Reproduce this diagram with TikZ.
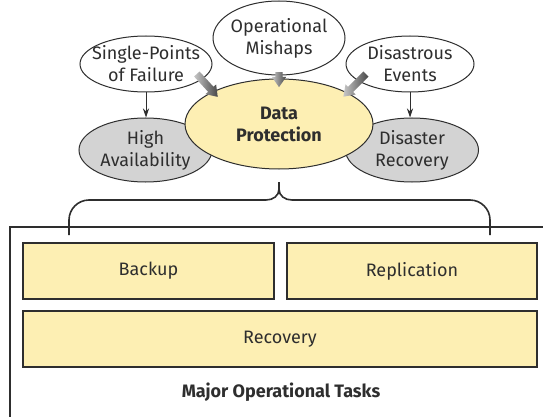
\documentclass[tikz,border=0pt]{standalone}
\usepackage{fontspec}
\setmainfont{Fira Sans}
\usetikzlibrary{shapes.geometric,shapes.arrows,arrows.meta}
\definecolor{pale}{HTML}{FDEFB3}
\definecolor{mist}{HTML}{D3D3D3}
\definecolor{ink}{HTML}{2E2E2E}
\newcommand{\labelfont}{\fontsize{18}{22}\selectfont}
\tikzset{
  cause/.style={ellipse, draw=ink, line width=1pt, fill=white, inner sep=-8pt, align=center, minimum width=132pt, minimum height=56pt},
  goal/.style={cause, fill=mist, minimum width=133pt, minimum height=64pt},
  core/.style={cause, fill=pale, font=\labelfont\bfseries, minimum width=188pt, minimum height=90pt},
  task/.style={draw=ink, line width=1.2pt, fill=pale, inner sep=0pt, minimum height=56pt},
  feed/.style={single arrow, inner xsep=0pt, inner ysep=3.5pt, single arrow head extend=3.5pt, single arrow tip angle=70, draw=none, left color=black!22, right color=black!72}
}
\begin{document}
\begin{tikzpicture}[x=1pt, y=-1pt, >={Stealth[length=9pt,width=6pt]}, font=\labelfont, text=ink]
  \clip (0,0) rectangle (543,417);
  \fill[white] (0,0) rectangle (543,417);
  \draw[ink, line width=1.3pt] (10,227) rectangle (560,440);
  \node[task, minimum width=251pt] (backup) at (148.5,271) {Backup};
  \node[task, minimum width=250pt] (repl) at (412,271) {Replication};
  \node[task, minimum width=514pt] (recov) at (280,339) {Recovery};
  \node[font=\labelfont\bfseries] (tasks) at (281,392) {Major Operational Tasks};

  \node[goal] (ha) at (145.5,150) {High\\Availability};
  \node[goal] (dr) at (412,150) {Disaster\\Recovery};
  \node[core] (dp) at (279,124) {Data\\Protection};

  \node[cause] (spf) at (146,64) {Single-Points\\of Failure};
  \node[cause, minimum height=74pt] (ops) at (279,38) {Operational\\Mishaps};
  \node[cause, minimum width=128pt] (dis) at (410,64) {Disastrous\\Events};

  \draw[->, ink, line width=0.9pt] (spf.south) -- (spf.south |- ha.north);
  \draw[->, ink, line width=0.9pt] (dis.south) -- (dis.south |- dr.north);

  \foreach \nm/\x/\y/\ang/\len in {feedL/205.5/83.5/-47.6/31, feedM/279/77/-90/15, feedR/356.5/83.5/-135/32}
    \node[feed, rotate=\ang, minimum height=\len pt] (\nm) at (\x,\y) {};

  \coordinate (braceTip) at (279,182);
  \coordinate (braceL) at (69,235);
  \coordinate (braceR) at (490,235);
  \draw[ink, line width=1.6pt] (braceL) -- (69,220) .. controls (69,209) and (78,200) .. (89,200) -- (266,200) .. controls (273,200) and (279,196) .. (279,189) -- (braceTip);
  \draw[ink, line width=1.6pt] (braceR) -- (490,220) .. controls (490,209) and (481,200) .. (470,200) -- (292,200) .. controls (285,200) and (279,196) .. (279,189);
\end{tikzpicture}
\end{document}
